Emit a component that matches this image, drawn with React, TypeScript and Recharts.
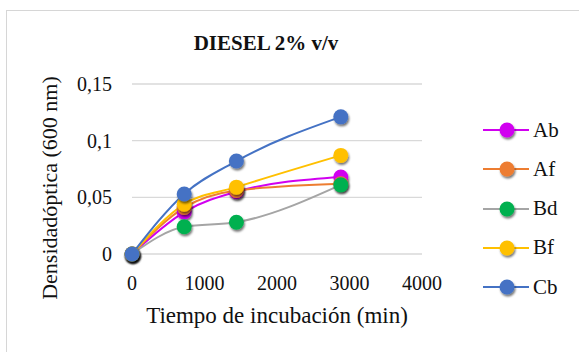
import React from 'react';
import { LineChart, Line, XAxis, YAxis, CartesianGrid, Label } from 'recharts';

// Incubation times (min) and optical density readings at 600 nm
const times = [0, 720, 1440, 2880];
const abValues = [0, 0.037, 0.055, 0.068];
const afValues = [0, 0.041, 0.056, 0.062];
const bdValues = [0, 0.024, 0.028, 0.061];
const bfValues = [0, 0.044, 0.059, 0.087];
const cbValues = [0, 0.053, 0.082, 0.121];

const xTicks = [0, 1000, 2000, 3000, 4000];
const yTicks = [0, 0.05, 0.1, 0.15];
const yTickLabels = ['0', '0,05', '0,1', '0,15'];

const series = [
  { key: 'Ab', values: abValues, line: '#D100F0', marker: '#D100F0' },
  { key: 'Af', values: afValues, line: '#ED7D31', marker: '#ED7D31' },
  { key: 'Bd', values: bdValues, line: '#A5A5A5', marker: '#00B050' },
  { key: 'Bf', values: bfValues, line: '#FFC000', marker: '#FFC000' },
  { key: 'Cb', values: cbValues, line: '#4472C4', marker: '#4472C4' },
];

const data = times.map((t, i) => {
  const row: Record<string, number> = { t };
  series.forEach((s) => {
    row[s.key] = s.values[i];
  });
  return row;
});

const FONT = "'Liberation Serif', 'Times New Roman', Times, serif";
const TEXT = '#111';

const YTitle = (props: any) => {
  const vb = props.viewBox;
  const cx = vb.x + 49;
  const cy = vb.y + vb.height / 2 + 19;
  return (
    <text
      x={cx}
      y={cy}
      transform={`rotate(-90 ${cx} ${cy})`}
      textAnchor="middle"
      dominantBaseline="central"
      style={{ fontFamily: FONT, fontSize: 22, fill: TEXT }}
    >
      Densidadóptica (600 nm)
    </text>
  );
};

export default function App() {
  return (
    <div
      style={{
        position: 'absolute',
        left: 0,
        top: 0,
        width: 579,
        height: 352,
        overflow: 'hidden',
        background: '#fff',
        fontFamily: FONT,
      }}
    >
      <svg width={0} height={0} style={{ position: 'absolute' }}>
        <defs>
          <filter id="markerShadow" x="-50%" y="-50%" width="200%" height="200%">
            <feDropShadow dx="1" dy="2" stdDeviation="1.2" floodColor="#000" floodOpacity="0.55" />
          </filter>
        </defs>
      </svg>
      <div
        style={{
          position: 'absolute',
          left: 6,
          top: 10,
          width: 700,
          height: 500,
          border: '1.5px solid #D6D6D6',
          boxSizing: 'border-box',
        }}
      />
      <div
        style={{
          position: 'absolute',
          left: 0,
          top: 29,
          width: 532,
          textAlign: 'center',
          fontWeight: 'bold',
          fontSize: 21,
          color: TEXT,
          lineHeight: '28px',
        }}
      >
        DIESEL 2% v/v
      </div>
      <div style={{ position: 'absolute', left: 0, top: 0, fontFamily: FONT }}>
        <LineChart
          width={579}
          height={352}
          data={data}
          margin={{ top: 84, right: 157, bottom: 0, left: 0 }}
          style={{ fontFamily: FONT }}
        >
          <CartesianGrid horizontal vertical={false} stroke="#D9D9D9" strokeWidth={1.3} />
          <XAxis
            type="number"
            dataKey="t"
            domain={[0, 4000]}
            ticks={xTicks}
            axisLine={false}
            tickLine={false}
            tickSize={0}
            tickMargin={22}
            tick={{ style: { fontFamily: FONT }, fontSize: 20, fill: TEXT }}
            height={98}
          >
            <Label
              value="Tiempo de incubación (min)"
              position="insideTop"
              offset={53}
              style={{ fontFamily: FONT, fontSize: 23, fill: TEXT }}
            />
          </XAxis>
          <YAxis
            type="number"
            domain={[0, 0.15]}
            ticks={yTicks}
            tickFormatter={(v: number) => yTickLabels[yTicks.indexOf(v)] ?? String(v)}
            axisLine={false}
            tickLine={false}
            tickSize={0}
            tickMargin={20}
            width={132}
            tick={{ style: { fontFamily: FONT }, fontSize: 20, fill: TEXT }}
          >
            <Label content={<YTitle />} />
          </YAxis>
          {series.map((s) => (
            <Line
              key={s.key}
              type="monotone"
              dataKey={s.key}
              stroke={s.line}
              strokeWidth={2}
              dot={{ r: 7.5, fill: s.marker, stroke: s.marker, strokeWidth: 0, filter: 'url(#markerShadow)' }}
              activeDot={false}
              isAnimationActive={false}
            />
          ))}
        </LineChart>
      </div>
      {series.map((s, i) => {
        const cy = 130 + i * 39.3;
        return (
          <div key={s.key} style={{ position: 'absolute', left: 480, top: cy - 14, height: 28, display: 'flex', alignItems: 'center' }}>
            <svg width={52} height={28}>
              <line x1={3} y1={14} x2={49} y2={14} stroke={s.line} strokeWidth={2} />
              <circle cx={27} cy={14} r={7.5} fill={s.marker} filter="url(#markerShadow)" />
            </svg>
            <span style={{ fontSize: 21, color: TEXT, marginLeft: 1 }}>{s.key}</span>
          </div>
        );
      })}
    </div>
  );
}
